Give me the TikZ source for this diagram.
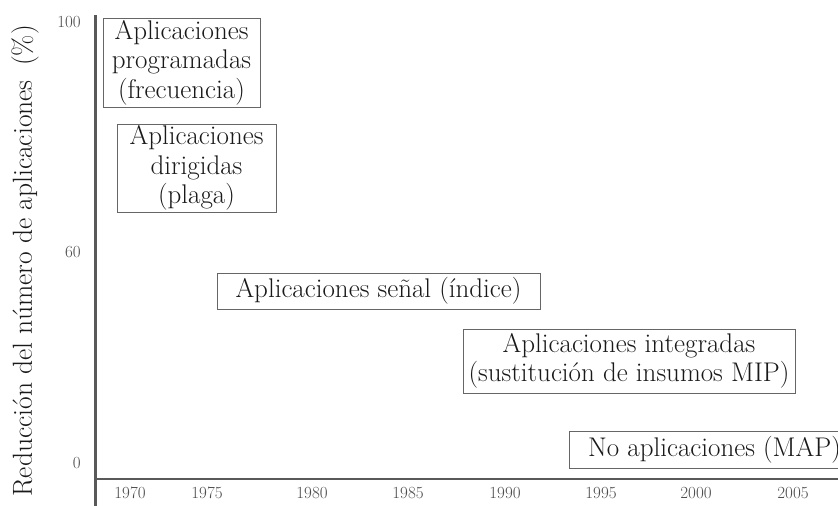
\documentclass[tikz,border=0pt]{standalone}
\begin{document}
\begin{tikzpicture}[x=1pt,y=-1pt,
  box/.style={draw=black!60, line width=0.9pt, inner sep=0pt, align=center,
    font=\fontsize{27}{29.5}\selectfont, text=black!90},
  tick/.style={font=\fontsize{17}{19}\selectfont, text=black!70, inner sep=0pt},
  axisline/.style={draw=black!65}]
\clip (0,0) rectangle (838,506);
\fill[white] (0,0) rectangle (838,506);
% axes
\coordinate (ytop) at (95,15);
\coordinate (ybot) at (95,506);
\coordinate (xl) at (95,479);
\coordinate (xr) at (838,479);
\draw[axisline, line width=1.6pt] (xl) -- (xr);
\draw[axisline, line width=3pt] (ytop) -- (ybot);
% y label
\node[rotate=90, font=\fontsize{27.5}{30}\selectfont, text=black!90] (ylab) at (25,261)
  {Reducción del número de aplicaciones\hspace{6pt} (\%)};
% y ticks
\node[tick, anchor=east] (y100) at (81,22) {100};
\node[tick, anchor=east] (y60) at (81,252) {60};
\node[tick, anchor=east] (y0) at (81,463) {0};
% x ticks
\node[tick] (x1970) at (130,493) {1970};
\node[tick] (x1975) at (207,493) {1975};
\node[tick] (x1980) at (312,493) {1980};
\node[tick] (x1985) at (408,493) {1985};
\node[tick] (x1990) at (505,493) {1990};
\node[tick] (x1995) at (601,493) {1995};
\node[tick] (x2000) at (696,493) {2000};
\node[tick] (x2005) at (793,493) {2005};
% boxes
\node[box, minimum width=157pt, minimum height=89pt] (b1) at (181.5,62.5)
  {Aplicaciones\\programadas\\(frecuencia)};
\node[box, minimum width=159pt, minimum height=88pt] (b2) at (196.5,168)
  {Aplicaciones\\dirigidas\\(plaga)};
\node[box, minimum width=323pt, minimum height=36pt] (b3) at (378.5,291)
  {Aplicaciones señal (índice)};
\node[box, minimum width=332pt, minimum height=64pt] (b4) at (629,361)
  {Aplicaciones integradas\\(sustitución de insumos MIP)};
\node[box, minimum width=291pt, minimum height=37pt] (b5) at (714.5,449.5)
  {No aplicaciones (MAP)};
\end{tikzpicture}
\end{document}
